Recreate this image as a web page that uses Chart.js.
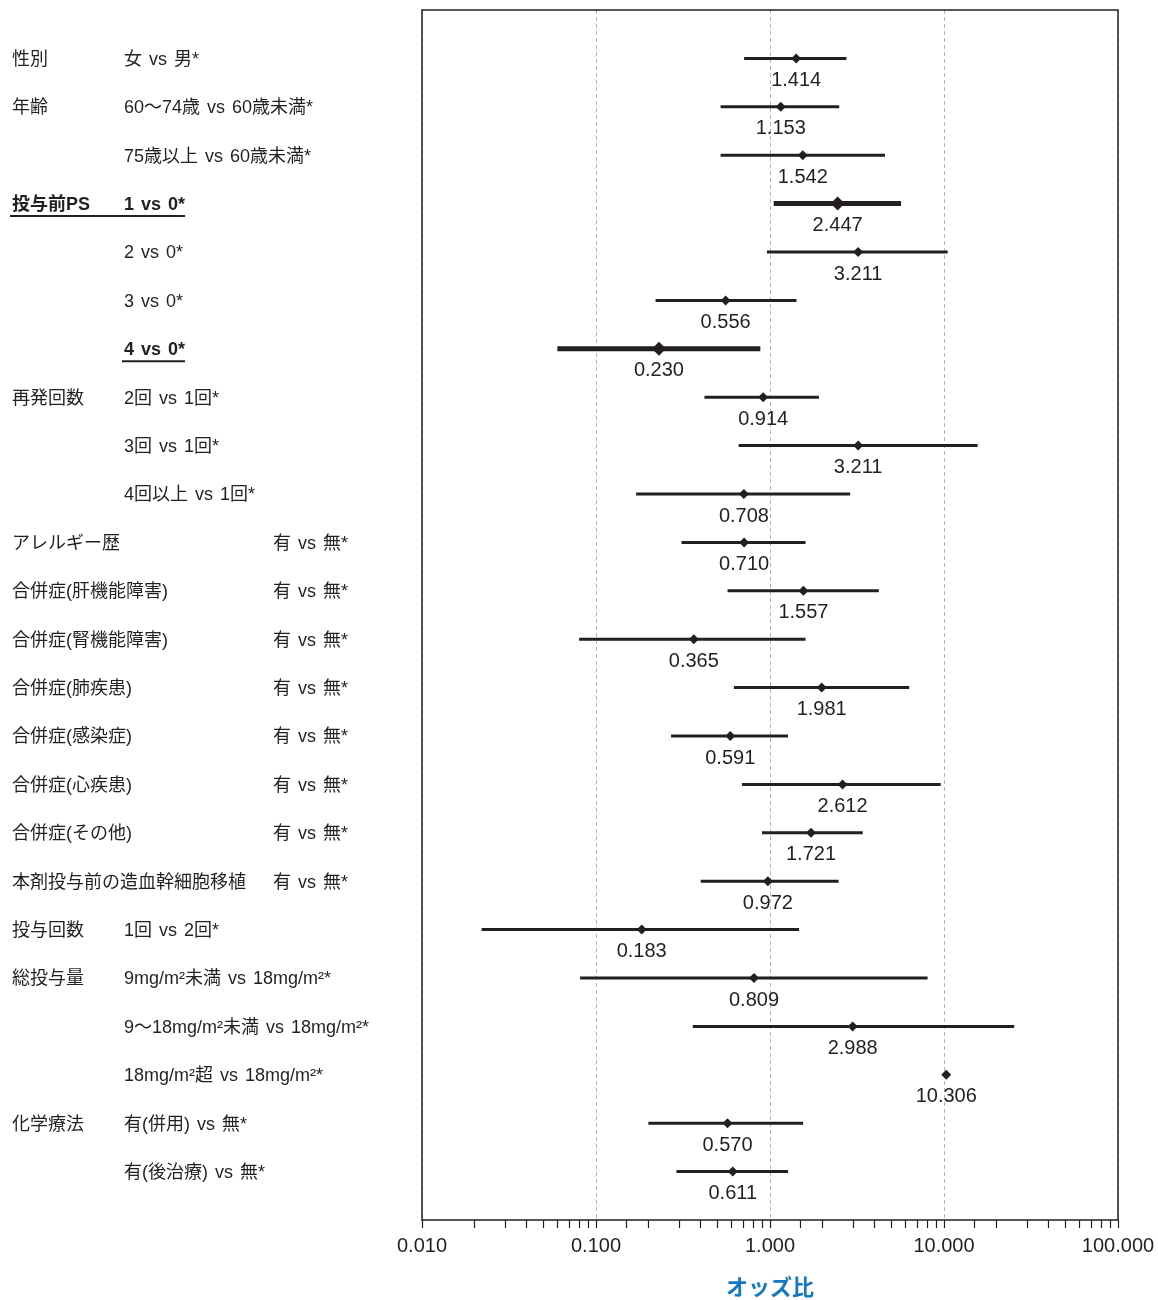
<!DOCTYPE html>
<html>
<head>
<meta charset="utf-8">
<script src="https://cdn.jsdelivr.net/npm/chart.js@4.4.1/dist/chart.umd.min.js"></script>
<style>
body { margin: 0; background: #fff; }
#wrap { width: 1158px; height: 1300px; }
</style>
</head>
<body>
<div id="wrap"><canvas id="forest" width="1158" height="1300"></canvas></div>
<script>
// left column: factor names, second column: comparison
var groups = ['性別', '年齢', '', '投与前PS', '', '', '', '再発回数', '', '',
    'アレルギー歴', '合併症(肝機能障害)', '合併症(腎機能障害)', '合併症(肺疾患)',
    '合併症(感染症)', '合併症(心疾患)', '合併症(その他)', '本剤投与前の造血幹細胞移植',
    '投与回数', '総投与量', '', '', '化学療法', ''];
var comparisons = ['女 vs 男*', '60〜74歳 vs 60歳未満*', '75歳以上 vs 60歳未満*',
    '1 vs 0*', '2 vs 0*', '3 vs 0*', '4 vs 0*', '2回 vs 1回*', '3回 vs 1回*', '4回以上 vs 1回*',
    '有 vs 無*', '有 vs 無*', '有 vs 無*', '有 vs 無*', '有 vs 無*', '有 vs 無*', '有 vs 無*', '有 vs 無*',
    '1回 vs 2回*', '9mg/m²未満 vs 18mg/m²*', '9〜18mg/m²未満 vs 18mg/m²*', '18mg/m²超 vs 18mg/m²*',
    '有(併用) vs 無*', '有(後治療) vs 無*'];
var oddsRatio = [1.414, 1.153, 1.542, 2.447, 3.211, 0.556, 0.230, 0.914, 3.211, 0.708,
    0.710, 1.557, 0.365, 1.981, 0.591, 2.612, 1.721, 0.972, 0.183, 0.809, 2.988, 10.306, 0.570, 0.611];
var ciLower = [0.71, 0.52, 0.52, 1.05, 0.96, 0.22, 0.060, 0.42, 0.66, 0.17,
    0.31, 0.57, 0.080, 0.62, 0.27, 0.69, 0.90, 0.40, 0.022, 0.081, 0.36, null, 0.20, 0.29];
var ciUpper = [2.75, 2.50, 4.58, 5.66, 10.5, 1.42, 0.88, 1.91, 15.6, 2.89,
    1.60, 4.22, 1.60, 6.31, 1.27, 9.57, 3.41, 2.48, 1.47, 8.05, 25.3, null, 1.55, 1.27];
var significantRows = [3, 6];
var xTicks = [0.01, 0.1, 1, 10, 100];

var ink = '#231f20';
var jpFont = '"Noto Sans CJK JP", "Noto Sans", sans-serif';
var labelFont = '"Liberation Sans", "Noto Sans CJK JP", sans-serif';
var numFont = '"Liberation Sans", Arial, sans-serif';

function isSig(i) { return significantRows.indexOf(i) >= 0; }
function isMajor(v) {
    return xTicks.some(function (t) { return Math.abs(t - v) / t < 1e-6; });
}

function ciSegments(bold) {
    var pts = [];
    oddsRatio.forEach(function (v, i) {
        if (ciLower[i] == null || isSig(i) !== bold) return;
        pts.push({x: ciLower[i], y: i}, {x: ciUpper[i], y: i}, {x: ciUpper[i], y: null});
    });
    return pts;
}

var valueLabels = {
    id: 'valueLabels',
    afterDatasetsDraw: function (chart) {
        var ctx = chart.ctx, xs = chart.scales.x, ys = chart.scales.y;
        ctx.save();
        ctx.font = '20px ' + numFont;
        ctx.fillStyle = ink;
        ctx.textAlign = 'center';
        ctx.textBaseline = 'middle';
        oddsRatio.forEach(function (v, i) {
            ctx.fillText(v.toFixed(3), xs.getPixelForValue(v), ys.getPixelForValue(i) + 22);
        });
        ctx.restore();
    }
};

var rowLabels = {
    id: 'rowLabels',
    afterDraw: function (chart) {
        var ctx = chart.ctx, ys = chart.scales.y, area = chart.chartArea;
        ctx.save();
        // frame round the plot
        ctx.strokeStyle = ink;
        ctx.lineWidth = 1.5;
        ctx.strokeRect(area.left, area.top, area.right - area.left, area.bottom - area.top);

        ctx.fillStyle = ink;
        ctx.textBaseline = 'middle';
        ctx.textAlign = 'left';
        ctx.wordSpacing = '2px';
        comparisons.forEach(function (c, i) {
            var py = ys.getPixelForValue(i) + 1.5;
            var bold = isSig(i);
            var x2 = (i >= 10 && i <= 17) ? 273 : 124;
            ctx.font = (bold ? 'bold ' : '') + '18px ' + labelFont;
            if (groups[i]) ctx.fillText(groups[i], 12, py);
            ctx.fillText(c, x2, py);
            if (bold) {
                var start = groups[i] ? 10 : x2 - 2;
                var end = x2 + ctx.measureText(c).width;
                ctx.lineWidth = 2;
                ctx.beginPath();
                ctx.moveTo(start, py + 11);
                ctx.lineTo(end, py + 11);
                ctx.stroke();
            }
        });
        ctx.restore();
    }
};

var chart = new Chart(document.getElementById('forest').getContext('2d'), {
    type: 'scatter',
    data: {
        datasets: [{
            data: oddsRatio.map(function (v, i) { return {x: v, y: i}; }),
            pointStyle: 'rectRot',
            pointRadius: function (c) { return isSig(c.dataIndex) ? 7 : 5; },
            backgroundColor: ink,
            borderWidth: 0
        }, {
            data: ciSegments(false),
            showLine: true,
            borderColor: ink,
            borderWidth: 3,
            pointRadius: 0
        }, {
            data: ciSegments(true),
            showLine: true,
            borderColor: ink,
            borderWidth: 5,
            pointRadius: 0
        }]
    },
    options: {
        responsive: false,
        animation: false,
        events: [],
        layout: { padding: { left: 422, top: 10, right: 40, bottom: 0 } },
        plugins: { legend: { display: false }, tooltip: { enabled: false } },
        scales: {
            x: {
                type: 'logarithmic',
                min: 0.01,
                max: 100,
                grid: {
                    color: function (c) { return isMajor(c.tick.value) ? '#b5b5b5' : 'rgba(0,0,0,0)'; },
                    lineWidth: 1,
                    tickLength: 8,
                    tickColor: ink,
                    tickWidth: 1.2,
                    tickBorderDash: []
                },
                border: { display: false, dash: [4, 3] },
                ticks: {
                    autoSkip: false,
                    maxRotation: 0,
                    padding: 6,
                    color: ink,
                    font: { family: numFont, size: 20 },
                    callback: function (v) { return isMajor(v) ? v.toFixed(3) : ''; }
                },
                title: {
                    display: true,
                    text: 'オッズ比',
                    color: '#1479c0',
                    font: { family: jpFont, size: 22, weight: 'bold' },
                    padding: { top: 0, bottom: 0 }
                },
                afterFit: function (s) {
                    s.height = 80;
                    s.paddingLeft = 0;
                    s.paddingRight = 0;
                }
            },
            y: {
                type: 'linear',
                min: -1,
                max: 24,
                reverse: true,
                display: false
            }
        }
    },
    plugins: [valueLabels, rowLabels]
});
</script>
</body>
</html>
